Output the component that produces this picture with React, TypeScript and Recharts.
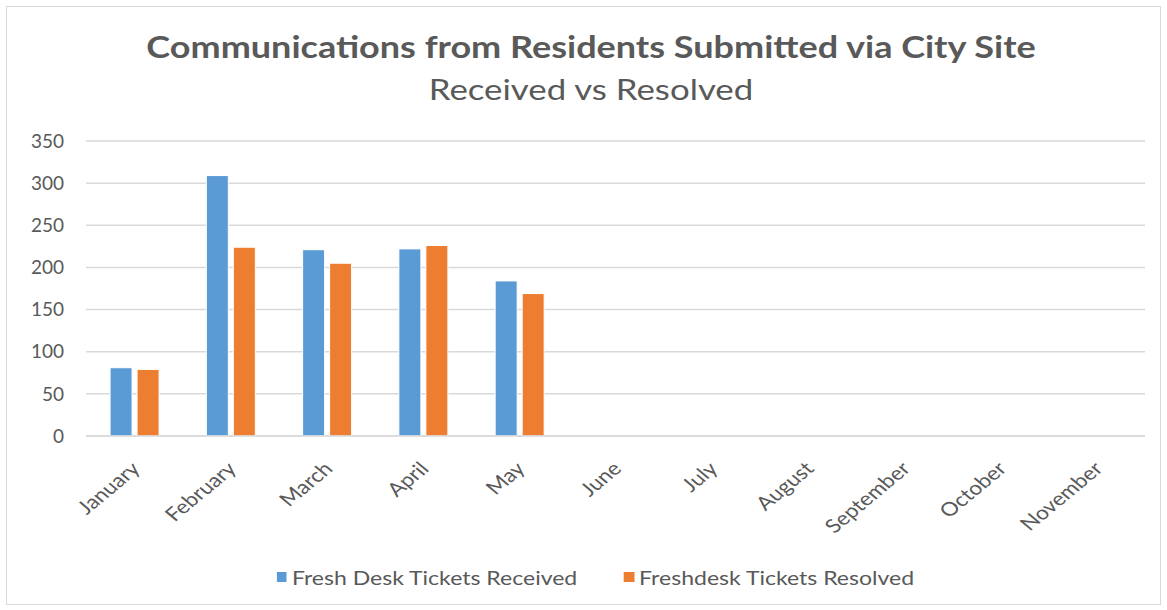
import { BarChart, Bar, XAxis, YAxis, CartesianGrid, Legend } from 'recharts';

const months = [
  'January',
  'February',
  'March',
  'April',
  'May',
  'June',
  'July',
  'August',
  'September',
  'October',
  'November',
];
const received = [81, 309, 221, 222, 184, null, null, null, null, null, null];
const resolved = [79, 224, 205, 226, 169, null, null, null, null, null, null];
const yTicks = [0, 50, 100, 150, 200, 250, 300, 350];

const FONT = 'Lato, "Open Sans", sans-serif';
const TEXT = '#595959';
const BLUE = '#5b9bd5';
const ORANGE = '#ed7d31';
// the reference image is a bit stretched sideways
const STRETCH = 1.2;

const chartData = months.map((m, i) => ({
  month: m,
  received: received[i],
  resolved: resolved[i],
}));

const MonthTick = ({ x, y, payload }: any) => (
  <g transform={`translate(${x} ${y}) scale(${STRETCH} 1)`}>
    <text
      x={6}
      y={26}
      transform="rotate(-45 6 26)"
      textAnchor="end"
      fill={TEXT}
      fontSize={19}
      fontFamily={FONT}
    >
      {payload.value}
    </text>
  </g>
);

const LegendContent = ({ payload }: any) => (
  <div
    style={{
      display: 'flex',
      justifyContent: 'center',
      alignItems: 'center',
      height: 24,
      marginLeft: 24,
      transform: `scaleX(${STRETCH})`,
      fontFamily: FONT,
      fontSize: 19.2,
      color: TEXT,
      gap: 39,
    }}
  >
    {(payload || []).map((p: any) => (
      <div key={p.value} style={{ display: 'flex', alignItems: 'center' }}>
        <span
          style={{
            display: 'inline-block',
            width: 8.5,
            height: 10,
            background: p.color,
            marginRight: 4,
          }}
        />
        <span>{p.value}</span>
      </div>
    ))}
  </div>
);

export default function App() {
  return (
    <div
      style={{
        position: 'absolute',
        left: 0,
        top: 0,
        width: 1167,
        height: 610,
        background: '#fff',
        fontFamily: FONT,
      }}
    >
      <div
        style={{
          position: 'absolute',
          left: 6,
          top: 6,
          width: 1155,
          height: 599,
          border: '1.5px solid #d9d9d9',
          boxSizing: 'border-box',
        }}
      />
      <div
        style={{
          position: 'absolute',
          left: 0,
          width: 1182,
          top: 28,
          textAlign: 'center',
          color: TEXT,
          fontWeight: 700,
          fontSize: 30,
          transform: `scaleX(${STRETCH})`,
        }}
      >
        Communications from Residents Submitted via City Site
      </div>
      <div
        style={{
          position: 'absolute',
          left: 0,
          width: 1182,
          top: 71,
          textAlign: 'center',
          color: TEXT,
          fontSize: 29,
          transform: `scaleX(${STRETCH})`,
        }}
      >
        Received vs Resolved
      </div>
      <BarChart
        width={1167}
        height={610}
        data={chartData}
        margin={{ top: 141, right: 22, left: 0, bottom: 21 }}
        barCategoryGap="25%"
        barGap={5}
        style={{ position: 'absolute', left: 0, top: 0 }}
      >
        <CartesianGrid vertical={false} stroke="#d9d9d9" strokeWidth={1.5} />
        <XAxis
          dataKey="month"
          interval={0}
          height={129}
          tickLine={false}
          axisLine={{ stroke: '#d9d9d9', strokeWidth: 1.5 }}
          tick={<MonthTick />}
        />
        <YAxis
          width={86}
          domain={[0, 350]}
          ticks={yTicks}
          interval={0}
          tickLine={false}
          axisLine={false}
          tickSize={0}
          tickMargin={22}
          tick={{ fill: TEXT, fontSize: 19, fontFamily: FONT }}
        />
        <Legend
          verticalAlign="bottom"
          align="center"
          height={24}
          wrapperStyle={{ left: 0, width: 1167 }}
          content={<LegendContent />}
        />
        <Bar
          dataKey="received"
          name="Fresh Desk Tickets Received"
          fill={BLUE}
          stroke="#fff"
          strokeWidth={1}
          isAnimationActive={false}
        />
        <Bar
          dataKey="resolved"
          name="Freshdesk Tickets Resolved"
          fill={ORANGE}
          stroke="#fff"
          strokeWidth={1}
          isAnimationActive={false}
        />
      </BarChart>
    </div>
  );
}
